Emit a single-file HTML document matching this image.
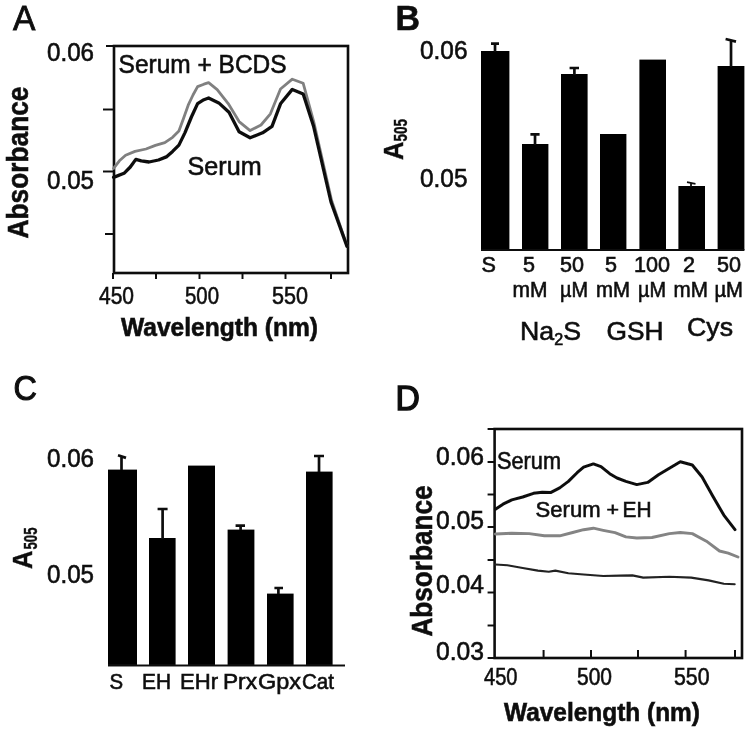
<!DOCTYPE html>
<html><head><meta charset="utf-8"><title>Figure</title>
<style>
html,body{margin:0;padding:0;background:#fff;}
svg{display:block;font-family:"Liberation Sans",sans-serif;}
</style></head>
<body>
<svg width="750" height="735" viewBox="0 0 750 735">
<defs><filter id="b" x="0" y="0" width="750" height="735" filterUnits="userSpaceOnUse"><feGaussianBlur stdDeviation="0.7"/></filter></defs>
<rect width="750" height="735" fill="#fff"/>
<g filter="url(#b)">
<!-- Panel A -->
<text x="13" y="29.6" font-size="35" textLength="22.4" lengthAdjust="spacingAndGlyphs" fill="#111" stroke="#111" stroke-width="0.8">A</text>
<rect x="114" y="46" width="234" height="227" fill="none" stroke="#111" stroke-width="2.6"/>
<line x1="106" y1="46" x2="114" y2="46" stroke="#111" stroke-width="2"/>
<line x1="103" y1="109.5" x2="114" y2="109.5" stroke="#111" stroke-width="2"/>
<line x1="103" y1="171.5" x2="114" y2="171.5" stroke="#111" stroke-width="2"/>
<line x1="105" y1="234" x2="114" y2="234" stroke="#111" stroke-width="2"/>
<line x1="113" y1="273" x2="113" y2="279" stroke="#111" stroke-width="2"/>
<line x1="156" y1="273" x2="156" y2="279" stroke="#111" stroke-width="2"/>
<line x1="199.5" y1="273" x2="199.5" y2="279" stroke="#111" stroke-width="2"/>
<line x1="242.5" y1="273" x2="242.5" y2="279" stroke="#111" stroke-width="2"/>
<line x1="285.5" y1="273" x2="285.5" y2="279" stroke="#111" stroke-width="2"/>
<line x1="331" y1="273" x2="331" y2="279" stroke="#111" stroke-width="2"/>
<text x="47" y="61" font-size="25" textLength="47" lengthAdjust="spacingAndGlyphs" fill="#111"  stroke="#111" stroke-width="0.6">0.06</text>
<text x="47" y="189" font-size="25" textLength="47" lengthAdjust="spacingAndGlyphs" fill="#111"  stroke="#111" stroke-width="0.6">0.05</text>
<text x="99" y="304" font-size="24" textLength="35" lengthAdjust="spacingAndGlyphs" fill="#111"  stroke="#111" stroke-width="0.6">450</text>
<text x="185" y="304" font-size="24" textLength="34" lengthAdjust="spacingAndGlyphs" fill="#111"  stroke="#111" stroke-width="0.6">500</text>
<text x="272" y="304" font-size="24" textLength="36" lengthAdjust="spacingAndGlyphs" fill="#111"  stroke="#111" stroke-width="0.6">550</text>
<text x="121" y="336" font-size="25" font-weight="bold" textLength="197" lengthAdjust="spacingAndGlyphs" fill="#111"  stroke="#111" stroke-width="0.6">Wavelength (nm)</text>
<text transform="translate(28,238.5) rotate(-90) scale(1,1.14)" font-size="26" font-weight="bold" textLength="152" lengthAdjust="spacingAndGlyphs" fill="#111" stroke="#111" stroke-width="0.5">Absorbance</text>
<text x="118.6" y="73.2" font-size="25.6" textLength="168" lengthAdjust="spacingAndGlyphs" fill="#111"  stroke="#111" stroke-width="0.6">Serum + BCDS</text>
<text x="187.6" y="175.2" font-size="25.4" textLength="74" lengthAdjust="spacingAndGlyphs" fill="#111"  stroke="#111" stroke-width="0.6">Serum</text>
<polyline points="113.6,168.4 119.4,160.8 125.6,155.3 135,151.4 146,149 155.4,145.4 164.8,142.6 172.6,137.3 178.9,131 183.5,118.5 188.2,105.2 193,95 197.6,86.6 203.9,84.2 208.6,82.6 217.2,89.6 228.2,103.6 239.1,121.6 250.1,130.6 261,125 270.4,113.8 280.5,89 292.3,79.2 303.2,83.3 313.8,122 331.6,200.5 347,246" fill="none" stroke="#808080" stroke-width="2.8" stroke-linejoin="round" stroke-linecap="round"/>
<polyline points="113.6,177.4 124,173.3 130.3,167 135.8,159.4 141.3,160.8 149,162 158.5,160 166.3,156.9 172.6,151.4 178.9,145.1 185,132.6 191.4,117 197.6,103.6 203.9,99.7 208.6,98 218.8,102.9 229,112.3 239.1,131.8 250.1,137.8 262.6,132.8 272,126.4 280.5,103.8 292.3,89.4 303.2,94 313.5,126 331,202 347,246.4" fill="none" stroke="#111" stroke-width="3.3" stroke-linejoin="round" stroke-linecap="round"/>
<!-- Panel B -->
<text x="395.4" y="30" font-size="35" font-weight="bold" textLength="24.5" lengthAdjust="spacingAndGlyphs" fill="#111"  stroke="#111" stroke-width="0.6">B</text>
<text x="420" y="59" font-size="25" textLength="47.5" lengthAdjust="spacingAndGlyphs" fill="#111"  stroke="#111" stroke-width="0.6">0.06</text>
<text x="420" y="187" font-size="25" textLength="47.5" lengthAdjust="spacingAndGlyphs" fill="#111"  stroke="#111" stroke-width="0.6">0.05</text>
<text transform="translate(403,160) rotate(-90)" font-size="27" font-weight="bold" textLength="18.5" lengthAdjust="spacingAndGlyphs" fill="#111"  stroke="#111" stroke-width="0.4">A</text>
<text transform="translate(406.5,141.5) rotate(-90)" font-size="17.5" font-weight="bold" textLength="22.5" lengthAdjust="spacingAndGlyphs" fill="#111"  stroke="#111" stroke-width="0.4">505</text>
<rect x="481" y="51" width="28.4" height="199.0" fill="#000"/>
<rect x="522" y="144" width="26.4" height="106.0" fill="#000"/>
<rect x="561" y="74" width="26.6" height="176.0" fill="#000"/>
<rect x="600" y="134" width="26.4" height="116.0" fill="#000"/>
<rect x="639.4" y="59.6" width="26.6" height="190.4" fill="#000"/>
<rect x="678.4" y="186" width="26.6" height="64.0" fill="#000"/>
<rect x="717.6" y="66" width="26.8" height="184.0" fill="#000"/>
<path d="M495,52 L495,43.6 M491,43.6 L499,43.6" stroke="#111" stroke-width="2.7" fill="none"/>
<path d="M535,145 L535,134.4 M530.4,134.4 L539.6,134.4" stroke="#111" stroke-width="2.7" fill="none"/>
<path d="M574.4,75 L574.4,68 M569.6,68 L579,68" stroke="#111" stroke-width="2.7" fill="none"/>
<path d="M691,187 L691,183 M687,182.2 L695.5,183.8" stroke="#111" stroke-width="1.8" fill="none"/>
<path d="M731,67 L731,40.3 M725.6,39.0 L736,41.599999999999994" stroke="#111" stroke-width="2.7" fill="none"/>
<line x1="481" y1="250" x2="744.4" y2="250" stroke="#111" stroke-width="2"/>
<text x="481.6" y="272.4" font-size="21.5" textLength="14.4" lengthAdjust="spacingAndGlyphs" fill="#111"  stroke="#111" stroke-width="0.6">S</text>
<text x="523" y="272.4" font-size="21.5" textLength="12" lengthAdjust="spacingAndGlyphs" fill="#111"  stroke="#111" stroke-width="0.6">5</text>
<text x="560" y="272.4" font-size="21.5" textLength="24" lengthAdjust="spacingAndGlyphs" fill="#111"  stroke="#111" stroke-width="0.6">50</text>
<text x="605" y="272.4" font-size="21.5" textLength="12" lengthAdjust="spacingAndGlyphs" fill="#111"  stroke="#111" stroke-width="0.6">5</text>
<text x="634" y="272.4" font-size="21.5" textLength="36" lengthAdjust="spacingAndGlyphs" fill="#111"  stroke="#111" stroke-width="0.6">100</text>
<text x="683" y="272.4" font-size="21.5" textLength="12" lengthAdjust="spacingAndGlyphs" fill="#111"  stroke="#111" stroke-width="0.6">2</text>
<text x="717" y="272.4" font-size="21.5" textLength="24" lengthAdjust="spacingAndGlyphs" fill="#111"  stroke="#111" stroke-width="0.6">50</text>
<text x="512.4" y="297" font-size="21.5" textLength="35" lengthAdjust="spacingAndGlyphs" fill="#111"  stroke="#111" stroke-width="0.6">mM</text>
<text x="560" y="297" font-size="21.5" textLength="28" lengthAdjust="spacingAndGlyphs" fill="#111"  stroke="#111" stroke-width="0.6">µM</text>
<text x="596" y="297" font-size="21.5" textLength="34" lengthAdjust="spacingAndGlyphs" fill="#111"  stroke="#111" stroke-width="0.6">mM</text>
<text x="638" y="297" font-size="21.5" textLength="28" lengthAdjust="spacingAndGlyphs" fill="#111"  stroke="#111" stroke-width="0.6">µM</text>
<text x="673.6" y="297" font-size="21.5" textLength="34.4" lengthAdjust="spacingAndGlyphs" fill="#111"  stroke="#111" stroke-width="0.6">mM</text>
<text x="714.4" y="297" font-size="21.5" textLength="28.6" lengthAdjust="spacingAndGlyphs" fill="#111"  stroke="#111" stroke-width="0.6">µM</text>
<text x="520" y="340" font-size="26.5" textLength="61" lengthAdjust="spacingAndGlyphs" fill="#111"  stroke="#111" stroke-width="0.6">Na<tspan font-size="16" dy="5">2</tspan><tspan dy="-5">S</tspan></text>
<text x="606.5" y="340" font-size="26.5" textLength="57" lengthAdjust="spacingAndGlyphs" fill="#111"  stroke="#111" stroke-width="0.6">GSH</text>
<text x="687" y="336" font-size="26.5" textLength="46" lengthAdjust="spacingAndGlyphs" fill="#111"  stroke="#111" stroke-width="0.6">Cys</text>
<!-- Panel C -->
<text x="13.4" y="400.2" font-size="35" textLength="23.4" lengthAdjust="spacingAndGlyphs" fill="#111" stroke="#111" stroke-width="1.1">C</text>
<text x="47" y="467" font-size="25" textLength="47" lengthAdjust="spacingAndGlyphs" fill="#111"  stroke="#111" stroke-width="0.6">0.06</text>
<text x="47" y="583" font-size="25" textLength="47" lengthAdjust="spacingAndGlyphs" fill="#111"  stroke="#111" stroke-width="0.6">0.05</text>
<text transform="translate(32.4,569) rotate(-90)" font-size="27" font-weight="bold" textLength="18.5" lengthAdjust="spacingAndGlyphs" fill="#111"  stroke="#111" stroke-width="0.4">A</text>
<text transform="translate(37,549.5) rotate(-90)" font-size="17.5" font-weight="bold" textLength="22" lengthAdjust="spacingAndGlyphs" fill="#111"  stroke="#111" stroke-width="0.4">505</text>
<rect x="108" y="469.6" width="29.0" height="196.0" fill="#000"/>
<rect x="149" y="538" width="26.6" height="127.6" fill="#000"/>
<rect x="188" y="465.6" width="27.0" height="200.0" fill="#000"/>
<rect x="227.6" y="529.6" width="26.8" height="136.0" fill="#000"/>
<rect x="267" y="593.6" width="26.6" height="72.0" fill="#000"/>
<rect x="306" y="471.6" width="26.6" height="194.0" fill="#000"/>
<path d="M121.5,470 L121.5,456.6 M118,455.3 L126,457.90000000000003" stroke="#111" stroke-width="2.7" fill="none"/>
<path d="M162.6,539 L162.6,509 M157.6,509 L167.6,509" stroke="#111" stroke-width="2.7" fill="none"/>
<path d="M240.6,530 L240.6,525.6 M235.6,525.6 L245,525.6" stroke="#111" stroke-width="2.7" fill="none"/>
<path d="M278.4,594 L278.4,588 M274.4,588 L283,588" stroke="#111" stroke-width="2.7" fill="none"/>
<path d="M319,472 L319,456 M314,456 L324,456" stroke="#111" stroke-width="2.7" fill="none"/>
<line x1="108" y1="665.6" x2="345" y2="665.6" stroke="#111" stroke-width="2"/>
<text x="109.6" y="688.5" font-size="21.5" textLength="13.6" lengthAdjust="spacingAndGlyphs" fill="#111"  stroke="#111" stroke-width="0.6">S</text>
<text x="142" y="688.5" font-size="21.5" textLength="29" lengthAdjust="spacingAndGlyphs" fill="#111"  stroke="#111" stroke-width="0.6">EH</text>
<text x="180" y="688.5" font-size="21.5" textLength="38" lengthAdjust="spacingAndGlyphs" fill="#111"  stroke="#111" stroke-width="0.6">EHr</text>
<text x="223" y="688.5" font-size="21.5" textLength="34" lengthAdjust="spacingAndGlyphs" fill="#111"  stroke="#111" stroke-width="0.6">Prx</text>
<text x="258" y="688.5" font-size="21.5" textLength="43" lengthAdjust="spacingAndGlyphs" fill="#111"  stroke="#111" stroke-width="0.6">Gpx</text>
<text x="302" y="688.5" font-size="21.5" textLength="32" lengthAdjust="spacingAndGlyphs" fill="#111"  stroke="#111" stroke-width="0.6">Cat</text>
<!-- Panel D -->
<text x="395.6" y="410.4" font-size="35" textLength="24.4" lengthAdjust="spacingAndGlyphs" fill="#111" stroke="#111" stroke-width="1.4">D</text>
<rect x="494.6" y="429" width="247.4" height="229" fill="none" stroke="#111" stroke-width="2.6"/>
<line x1="487.6" y1="429" x2="494.6" y2="429" stroke="#111" stroke-width="2"/>
<line x1="487.6" y1="462" x2="494.6" y2="462" stroke="#111" stroke-width="2"/>
<line x1="487.6" y1="494.5" x2="494.6" y2="494.5" stroke="#111" stroke-width="2"/>
<line x1="487.6" y1="527" x2="494.6" y2="527" stroke="#111" stroke-width="2"/>
<line x1="487.6" y1="560" x2="494.6" y2="560" stroke="#111" stroke-width="2"/>
<line x1="487.6" y1="592.5" x2="494.6" y2="592.5" stroke="#111" stroke-width="2"/>
<line x1="487.6" y1="625.5" x2="494.6" y2="625.5" stroke="#111" stroke-width="2"/>
<line x1="487.6" y1="658" x2="494.6" y2="658" stroke="#111" stroke-width="2"/>
<line x1="543.6" y1="650" x2="543.6" y2="658" stroke="#111" stroke-width="2"/>
<line x1="591" y1="650" x2="591" y2="658" stroke="#111" stroke-width="2"/>
<line x1="638" y1="650" x2="638" y2="658" stroke="#111" stroke-width="2"/>
<line x1="685.6" y1="650" x2="685.6" y2="658" stroke="#111" stroke-width="2"/>
<line x1="735" y1="650" x2="735" y2="658" stroke="#111" stroke-width="2"/>
<text x="436" y="465" font-size="25" textLength="48" lengthAdjust="spacingAndGlyphs" fill="#111"  stroke="#111" stroke-width="0.6">0.06</text>
<text x="436" y="529" font-size="25" textLength="48" lengthAdjust="spacingAndGlyphs" fill="#111"  stroke="#111" stroke-width="0.6">0.05</text>
<text x="436" y="593" font-size="25" textLength="48" lengthAdjust="spacingAndGlyphs" fill="#111"  stroke="#111" stroke-width="0.6">0.04</text>
<text x="436" y="659.6" font-size="25" textLength="48" lengthAdjust="spacingAndGlyphs" fill="#111"  stroke="#111" stroke-width="0.6">0.03</text>
<text x="484" y="685" font-size="24" textLength="33.5" lengthAdjust="spacingAndGlyphs" fill="#111"  stroke="#111" stroke-width="0.6">450</text>
<text x="577" y="685" font-size="24" textLength="35" lengthAdjust="spacingAndGlyphs" fill="#111"  stroke="#111" stroke-width="0.6">500</text>
<text x="674" y="685" font-size="24" textLength="35.6" lengthAdjust="spacingAndGlyphs" fill="#111"  stroke="#111" stroke-width="0.6">550</text>
<text x="504" y="721" font-size="25" font-weight="bold" textLength="196" lengthAdjust="spacingAndGlyphs" fill="#111"  stroke="#111" stroke-width="0.6">Wavelength (nm)</text>
<text transform="translate(431.5,636.5) rotate(-90) scale(1,1.14)" font-size="26" font-weight="bold" textLength="151" lengthAdjust="spacingAndGlyphs" fill="#111" stroke="#111" stroke-width="0.5">Absorbance</text>
<text x="497" y="469" font-size="23" textLength="64" lengthAdjust="spacingAndGlyphs" fill="#111"  stroke="#111" stroke-width="0.6">Serum</text>
<text x="535.6" y="516.6" font-size="22.5" textLength="65" lengthAdjust="spacingAndGlyphs" fill="#111"  stroke="#111" stroke-width="0.6">Serum</text>
<text x="606.6" y="515.6" font-size="19" textLength="12.5" lengthAdjust="spacingAndGlyphs" fill="#111"  stroke="#111" stroke-width="0.6">+</text>
<text x="622.6" y="516.6" font-size="22.5" textLength="29" lengthAdjust="spacingAndGlyphs" fill="#111"  stroke="#111" stroke-width="0.6">EH</text>
<polyline points="495.4,509.2 503,504.2 511.8,499.9 522.7,497 533.5,493.3 542.2,492.2 551,492.4 559.7,487.9 568.4,481.4 577.1,472.7 583.6,467.2 593.4,463.9 601,466.6 609.7,473.7 617,478 625.9,481.4 636.8,484.6 647.7,482.4 658.5,474.8 669.4,468.3 680.3,461.8 692.3,465 702.1,477 713,496.6 723.8,515.1 735,529.6" fill="none" stroke="#111" stroke-width="3.0" stroke-linejoin="round" stroke-linecap="round"/>
<polyline points="495.4,534 511.8,533.2 529.2,533.6 544.4,535.8 559.7,535.8 572.7,532.5 583.6,529.7 593.4,528.2 603.2,530.3 615,532.7 625.9,536.9 636.8,538 652,537.5 669.4,533.6 680.3,532.5 692.3,533.6 706.4,541.2 719.5,551 728.2,553.2 738,557" fill="none" stroke="#848484" stroke-width="2.9" stroke-linejoin="round" stroke-linecap="round"/>
<polyline points="495.4,564.5 507.4,565.2 522.7,568 537.9,570.6 548.8,571.7 555.3,570.6 568.4,573.2 583.6,574.5 603.2,576 620,575.6 632.4,575.4 643.3,577.6 669.4,576.7 691.2,577.6 708.6,580.4 723.8,583.7 734.7,584.3" fill="none" stroke="#222" stroke-width="2.1" stroke-linejoin="round" stroke-linecap="round"/>
</g>
</svg>
</body></html>
